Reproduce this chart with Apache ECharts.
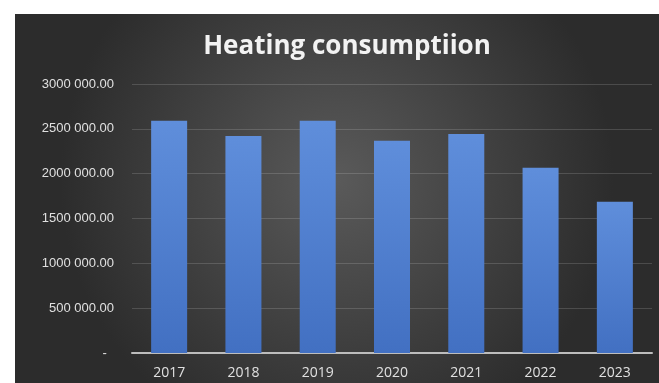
<!DOCTYPE html>
<html>
<head>
<meta charset="utf-8">
<script src="https://cdn.jsdelivr.net/npm/echarts@6/dist/echarts.min.js"></script>
<style>
html,body{margin:0;padding:0;background:#ffffff;}
#chart{position:absolute;left:15px;top:14px;width:644px;height:369px;}
</style>
</head>
<body>
<div id="chart"></div>
<script>
const titleText = 'Heating consumptiion';
const categories = ['2017', '2018', '2019', '2020', '2021', '2022', '2023'];
const consumption = [2590000, 2420000, 2590000, 2368000, 2442000, 2067000, 1688000];
const yTickValues = [0, 500000, 1000000, 1500000, 2000000, 2500000, 3000000];
const yTickLabels = ['-', '500 000.00', '1000 000.00', '1500 000.00', '2000 000.00', '2500 000.00', '3000 000.00'];

const chart = echarts.init(document.getElementById('chart'), null, {renderer: 'canvas'});
chart.setOption({
  animation: false,
  backgroundColor: {
    type: 'radial', x: 0.5, y: 0.45, r: 0.75,
    colorStops: [
      {offset: 0, color: '#5a5a5a'},
      {offset: 1, color: '#2c2c2c'}
    ]
  },
  title: {
    text: titleText,
    left: 327,
    textAlign: 'center',
    top: 15,
    textStyle: {
      color: '#f2f2f2',
      fontFamily: 'Open Sans',
      fontWeight: 'bold',
      fontSize: 26
    }
  },
  grid: {left: 117, right: 7, top: 70, bottom: 30},
  xAxis: {
    type: 'category',
    data: categories,
    axisLine: {show: true, lineStyle: {color: '#bdbdbd', width: 2}},
    axisTick: {show: false},
    axisLabel: {color: '#e0e0e0', fontSize: 14, fontFamily: 'Open Sans', margin: 13}
  },
  yAxis: {
    type: 'value',
    min: 0, max: 3000000, interval: 500000,
    axisLine: {show: false},
    axisTick: {show: false},
    splitLine: {lineStyle: {color: 'rgba(255,255,255,0.15)', width: 1}},
    axisLabel: {
      color: '#e0e0e0', fontSize: 13, fontFamily: 'Liberation Sans', margin: 18,
      formatter: function (v) {
        const i = yTickValues.indexOf(v);
        const s = i >= 0 ? yTickLabels[i] : '';
        return v === 0 ? s + '  ' : s;
      }
    }
  },
  series: [{
    type: 'bar',
    data: consumption,
    barWidth: 36,
    itemStyle: {
      color: {
        type: 'linear', x: 0, y: 0, x2: 0, y2: 1,
        colorStops: [
          {offset: 0, color: '#5f8edb'},
          {offset: 1, color: '#4270c2'}
        ]
      }
    }
  }]
});
</script>
</body>
</html>
